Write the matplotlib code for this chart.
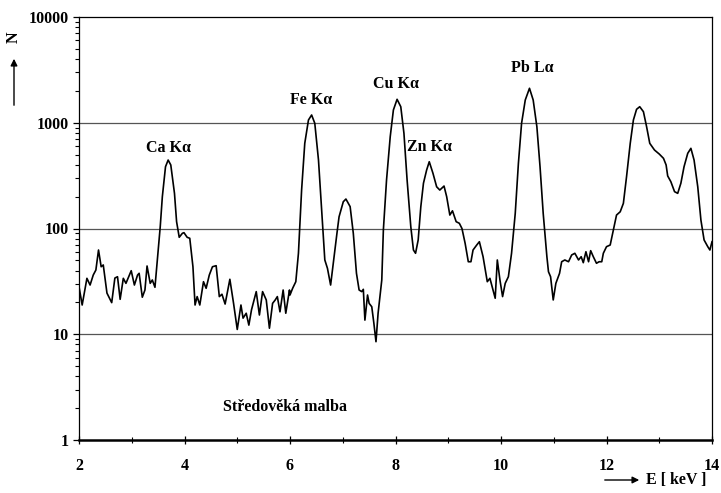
import matplotlib
matplotlib.use("Agg")
import matplotlib.pyplot as plt
from matplotlib.ticker import LogLocator, NullFormatter, FixedLocator

energy_kev = [
    2.00, 2.06, 2.15, 2.21, 2.27, 2.32, 2.37, 2.42, 2.46, 2.53, 2.62, 2.68, 2.73, 2.78, 2.84,
    2.89, 2.93, 2.99, 3.05, 3.11, 3.14, 3.20, 3.25, 3.29, 3.35, 3.39, 3.44, 3.49, 3.54, 3.58,
    3.64, 3.69, 3.74, 3.81, 3.85, 3.90, 3.96, 3.99, 4.05, 4.10, 4.16, 4.20, 4.24, 4.29, 4.36,
    4.41, 4.47, 4.53, 4.60, 4.66, 4.71, 4.77, 4.86, 4.93, 5.00, 5.07, 5.11, 5.17, 5.22, 5.27,
    5.36, 5.42, 5.48, 5.55, 5.61, 5.67, 5.72, 5.76, 5.81, 5.87, 5.92, 5.99, 6.00, 6.05, 6.11,
    6.16, 6.22, 6.28, 6.35, 6.41, 6.47, 6.54, 6.60, 6.66, 6.71, 6.77, 6.82, 6.89, 6.93, 7.01,
    7.06, 7.14, 7.20, 7.26, 7.31, 7.36, 7.39, 7.42, 7.47, 7.50, 7.55, 7.59, 7.63, 7.67, 7.74,
    7.77, 7.83, 7.90, 7.96, 8.03, 8.10, 8.16, 8.22, 8.29, 8.34, 8.38, 8.43, 8.48, 8.53, 8.59,
    8.64, 8.71, 8.78, 8.84, 8.92, 8.97, 9.03, 9.08, 9.15, 9.21, 9.26, 9.32, 9.38, 9.43, 9.47,
    9.54, 9.59, 9.66, 9.74, 9.79, 9.84, 9.89, 9.93, 9.98, 10.03, 10.08, 10.14, 10.20, 10.27,
    10.33, 10.39, 10.46, 10.54, 10.61, 10.68, 10.74, 10.80, 10.87, 10.90, 10.94, 10.99, 11.04,
    11.11, 11.15, 11.21, 11.28, 11.34, 11.40, 11.47, 11.52, 11.56, 11.61, 11.66, 11.70, 11.75,
    11.81, 11.86, 11.91, 11.94, 12.00, 12.07, 12.13, 12.19, 12.26, 12.32, 12.38, 12.45, 12.51,
    12.57, 12.63, 12.70, 12.76, 12.82, 12.91, 13.00, 13.08, 13.13, 13.16, 13.22, 13.29, 13.35,
    13.41, 13.47, 13.54, 13.60, 13.66, 13.73, 13.79, 13.85, 13.92, 13.96, 14.00,
]
counts = [
    28.2, 18.9, 33.8, 29.2, 36.3, 40.5, 62.6, 43.5, 45.2, 24.5, 19.9, 34.0, 35.0, 21.4, 33.8,
    30.3, 33.8, 39.9, 29.2, 36.3, 37.7, 22.4, 26.2, 44.2, 30.3, 32.6, 27.8, 54.1, 104, 200,
    384, 444, 399, 215, 116, 82.6, 90.1, 91.3, 82.6, 80.8, 43.5, 18.9, 22.7, 18.9, 31.4,
    27.2, 36.3, 43.5, 44.5, 22.7, 23.9, 19.3, 33.1, 19.6, 11.1, 18.9, 14.2, 15.8, 12.2, 17.0,
    25.3, 15.2, 25.3, 21.1, 11.4, 19.6, 21.1, 22.7, 16.3, 26.2, 15.8, 26.2, 23.5, 27.2, 31.4,
    58.3, 231, 639, 1062, 1184, 988, 444, 150, 50.4, 42.0, 29.2, 46.9, 90.1, 129, 179,
    190, 161, 90.1, 37.7, 26.2, 25.3, 26.6, 13.6, 23.5, 19.6, 18.2, 12.7, 8.5, 15.8, 32.6,
    96.8, 287, 738, 1320, 1666, 1418, 795, 287, 104, 62.6, 58.3, 77.9, 161, 268, 357,
    428, 333, 248, 231, 252, 200, 134, 147, 116, 112, 100, 72.4, 48.5, 48.5, 62.6,
    69.8, 75.0, 54.1, 31.4, 33.8, 27.2, 21.9, 50.4, 32.6, 22.7, 30.3, 35.0, 58.3, 139,
    414, 988, 1641, 2118, 1641, 918, 384, 139, 54.1, 39.0, 35.0, 21.1, 30.3,
    37.7, 48.5, 50.4, 48.5, 56.2, 58.3, 50.4, 54.1, 47.5, 60.3, 48.5, 61.7, 54.1,
    46.9, 48.5, 48.5, 58.3, 67.3, 69.8, 96.8, 134, 144, 173, 309, 639, 1062,
    1340, 1418, 1272, 918, 639, 552, 506, 461, 399, 314, 277, 223, 215,
    268, 384, 514, 573, 444, 248, 120, 77.9, 67.3, 62.6, 75.0,
]

peak_labels = ["Ca K\u03b1", "Fe K\u03b1", "Cu K\u03b1", "Zn K\u03b1", "Pb L\u03b1"]
peak_label_x = [3.69, 6.40, 8.01, 8.65, 10.59]
peak_label_y = [577, 1641, 2325, 590, 3296]
sample_title = "St\u0159edov\u011bk\u00e1 malba"
x_ticks = [2, 4, 6, 8, 10, 12, 14]
y_ticks = [1, 10, 100, 1000, 10000]

plt.rcParams['font.family'] = ['Liberation Serif', 'DejaVu Serif']
plt.rcParams['font.weight'] = 'bold'

fig = plt.figure(figsize=(7.21, 4.93), dpi=100)
ax = fig.add_axes([79 / 721, 53 / 493, (712 - 79) / 721, (440 - 17) / 493])

ax.plot(energy_kev, counts, color='black', lw=1.2, zorder=3)

ax.set_yscale('log')
ax.set_xlim(2, 14)
ax.set_ylim(1, 10000)

for g in [10, 100, 1000]:
    ax.axhline(g, color='#555555', lw=0.9, zorder=1)

ax.set_xticks(x_ticks)
ax.set_xticklabels([str(t) for t in x_ticks])
ax.xaxis.set_minor_locator(FixedLocator([3, 5, 7, 9, 11, 13]))
ax.set_yticks(y_ticks)
ax.set_yticklabels([str(t) for t in y_ticks])
ax.yaxis.set_minor_locator(LogLocator(base=10, subs=range(2, 10)))
ax.yaxis.set_minor_formatter(NullFormatter())

ax.tick_params(axis='both', which='major', labelsize=11.5, length=4, width=0.9,
               color='black', pad=3)
ax.tick_params(axis='x', which='both', direction='inout', length=6, pad=10)
ax.tick_params(axis='x', which='minor', length=5, width=0.8)
ax.tick_params(axis='y', which='minor', direction='out', length=3, width=0.8)
for lbl in ax.get_xticklabels() + ax.get_yticklabels():
    lbl.set_fontweight('bold')

for side in ['left', 'right', 'top']:
    ax.spines[side].set_linewidth(0.9)
ax.spines['bottom'].set_linewidth(1.8)

for txt, xv, yv in zip(peak_labels, peak_label_x, peak_label_y):
    ax.text(xv, yv, txt, ha='center', va='center', fontsize=11.5, fontweight='bold')

ax.text(5.90, 2.05, sample_title, ha='center', va='center', fontsize=11.5, fontweight='bold')

# axis labels with arrows
fig.text(14 / 721, 1 - 37 / 493, "N", rotation=90, ha='center', va='center',
         fontsize=11.5, fontweight='bold')
fig.patches.append(matplotlib.patches.FancyArrowPatch(
    (14 / 721, 1 - 108 / 493), (14 / 721, 1 - 56 / 493), transform=fig.transFigure,
    arrowstyle='-|>', mutation_scale=10, lw=1.0, color='black'))
fig.patches.append(matplotlib.patches.FancyArrowPatch(
    (602 / 721, 1 - 480 / 493), (642 / 721, 1 - 480 / 493), transform=fig.transFigure,
    arrowstyle='-|>', mutation_scale=10, lw=1.0, color='black'))
fig.text(646 / 721, 1 - 480 / 493, "E [ keV ]", ha='left', va='center',
         fontsize=11.5, fontweight='bold')

fig.savefig("out.png", dpi=100)
